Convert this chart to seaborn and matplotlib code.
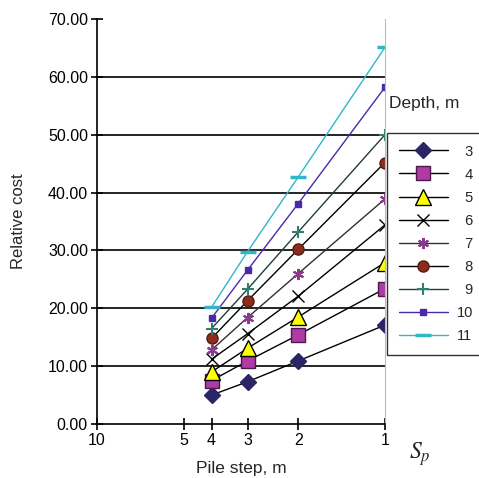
import matplotlib
matplotlib.use("Agg")
import matplotlib.pyplot as plt
import matplotlib.ticker as mticker
import numpy as np
import pandas as pd
import seaborn as sns

# pile step (m) and relative cost per depth (m)
steps = [4, 3, 2, 1]
depths = [3, 4, 5, 6, 7, 8, 9, 10, 11]
cost_3 = [5.0, 7.3, 10.9, 17.1]
cost_4 = [7.5, 10.9, 15.4, 23.4]
cost_5 = [9.0, 13.1, 18.5, 27.9]
cost_6 = [11.2, 15.6, 22.1, 34.4]
cost_7 = [12.8, 18.4, 26.0, 38.9]
cost_8 = [14.8, 21.3, 30.2, 45.2]
cost_9 = [16.5, 23.3, 33.2, 50.0]
cost_10 = [18.3, 26.6, 38.1, 58.2]
cost_11 = [20.2, 29.8, 42.7, 65.1]
costs = [cost_3, cost_4, cost_5, cost_6, cost_7, cost_8, cost_9, cost_10, cost_11]

x_ticks = [10, 5, 4, 3, 2, 1]
y_ticks = [0, 10, 20, 30, 40, 50, 60, 70]

rows = []
for d, c in zip(depths, costs):
    for s, v in zip(steps, c):
        rows.append({"depth": d, "step": s, "cost": v})
df = pd.DataFrame(rows)

# marker styles per depth: (marker, face, edge, size, line colour, edge width)
styles = {
    3: ("D", "#2b2466", "#2b2466", 8, "black", 1.0),
    4: ("s", "#b03aa6", "#4a1a4a", 10, "black", 1.0),
    5: ("^", "#ffff00", "black", 11, "black", 1.0),
    6: ("x", "black", "black", 9, "black", 1.0),
    7: ((6, 2, 0), "#8a3c8a", "#8a3c8a", 8, "#3a2a3a", 1.5),
    8: ("o", "#8b2d1c", "#5a1a10", 8, "black", 1.0),
    9: ("+", "#2e8070", "#2e8070", 9, "#1f3f3a", 1.5),
    10: ("s", "#4a2aa8", "#4a2aa8", 4, "#4a2aa8", 1.0),
    11: ("_", "#33b5c8", "#33b5c8", 12, "#33b5c8", 2.5),
}

sns.set_style("ticks")
plt.rcParams["font.family"] = ["Liberation Sans", "DejaVu Sans"]

fig = plt.figure(figsize=(4.79, 4.78), dpi=100)
ax = fig.add_axes([0.2025, 0.113, 0.601, 0.847])

for d in depths:
    m, fc, ec, ms, lc, mew = styles[d]
    sub = df[df["depth"] == d]
    lab = str(d) if d >= 10 else "\u2007" + str(d)
    sns.lineplot(data=sub, x="step", y="cost", ax=ax, color=lc, lw=1.0,
                 marker=m, markersize=ms, markerfacecolor=fc, markeredgecolor=ec,
                 markeredgewidth=mew, label=lab)

ax.set_xscale("log")
ax.set_xlim(10, 1)
ax.set_ylim(0, 70)
ax.xaxis.set_major_locator(mticker.FixedLocator(x_ticks))
ax.xaxis.set_minor_locator(mticker.NullLocator())
ax.xaxis.set_major_formatter(mticker.FixedFormatter([str(t) for t in x_ticks]))
ax.set_yticks(y_ticks)
ax.yaxis.set_major_formatter(mticker.FormatStrFormatter("%.2f"))

for yv in y_ticks[1:-1]:
    ax.axhline(yv, color="black", lw=1.2, zorder=0)

ax.spines["top"].set_visible(False)
ax.spines["left"].set_color("black")
ax.spines["bottom"].set_color("black")
ax.spines["left"].set_linewidth(1.2)
ax.spines["bottom"].set_linewidth(1.2)
ax.spines["right"].set_color("#bbbbbb")
ax.spines["right"].set_linewidth(0.8)
ax.tick_params(axis="both", direction="inout", length=9, width=1.2,
               labelsize=11.5, colors="black", pad=2)
ax.tick_params(axis="x", pad=2)

ax.set_xlabel("Pile step, m", fontsize=12.5, labelpad=9)
ax.set_ylabel("Relative cost", fontsize=12, labelpad=16)

leg = ax.legend(loc="upper left", bbox_to_anchor=(0.808, 0.722),
                bbox_transform=fig.transFigure, frameon=True, fancybox=False,
                fontsize=10.5, handlelength=3.4, labelspacing=0.62,
                borderpad=0.8, borderaxespad=0, handletextpad=0.6)
leg.get_frame().set_edgecolor("black")
leg.get_frame().set_linewidth(1.0)

fig.text(0.812, 0.774, "Depth, m", fontsize=12.5)
fig.text(0.853, 0.04, r"$S_p$", fontsize=17, math_fontfamily="stix")

fig.savefig("out.png", dpi=100)
